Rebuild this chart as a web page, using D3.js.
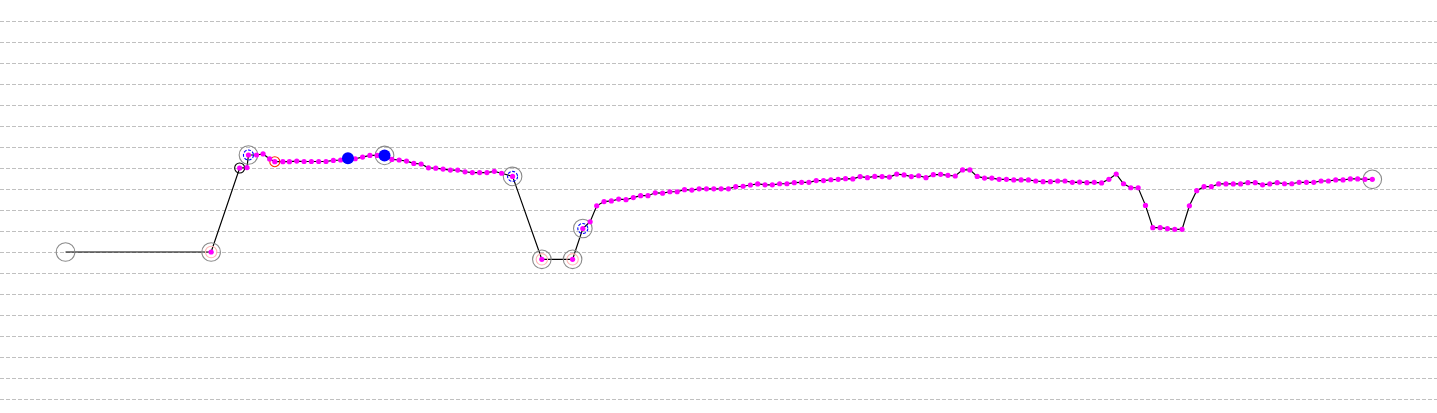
<!DOCTYPE html>
<html>
<head>
<meta charset="utf-8">
<script src="https://cdn.jsdelivr.net/npm/d3@7"></script>
<style>
  body { margin: 0; background: #fff; }
  .grid line { stroke: #c0c0c0; stroke-dasharray: 4,2; }
  .grid path { display: none; }
</style>
</head>
<body>
<div id="chart"></div>
<script>
// sample times (index units) and values
var times = [0.4, 20.3, 24.2, 25.2, 25.4, 26.5, 27.4, 28.3, 29, 30.1, 31, 32, 33, 34, 35, 36, 37, 38, 39, 40,
  41, 42, 43, 44, 45, 46, 47, 48, 49, 50, 51, 52, 53, 54, 55, 56, 57, 58, 59, 60,
  61.5, 65.5, 69.7, 71.1, 72.1, 73, 74, 75, 76, 77, 78, 79, 80, 81, 82, 83, 84, 85, 86, 87,
  88, 89, 90, 91, 92, 93, 94, 95, 96, 97, 98, 99, 100, 101, 102, 103, 104, 105, 106, 107,
  108, 109, 110, 111, 112, 113, 114, 115, 116, 117, 118, 119, 120, 121, 122, 123, 124, 125, 126, 127,
  128, 129, 130, 131, 132, 133, 134, 135, 136, 137, 138, 139, 140, 141, 142, 143, 144, 145, 146, 147,
  148, 149, 150, 151, 152, 153, 154, 155, 156, 157, 158, 159, 160, 161, 162, 163, 164, 165, 166, 167,
  168, 169, 170, 171, 172, 173, 174, 175, 176, 177, 178, 179];

var values = [8.0, 8.0, 12.0, 12.02, 12.62, 12.62, 12.67, 12.43, 12.3, 12.3, 12.3, 12.33, 12.31, 12.31, 12.31, 12.31, 12.36, 12.38, 12.46, 12.44,
  12.52, 12.6, 12.6, 12.6, 12.41, 12.38, 12.33, 12.22, 12.19, 12.01, 11.99, 11.95, 11.9, 11.9, 11.82, 11.78, 11.78, 11.78, 11.84, 11.75,
  11.6, 7.65, 7.65, 9.12, 9.44, 10.2, 10.4, 10.43, 10.52, 10.49, 10.59, 10.68, 10.68, 10.82, 10.8, 10.87, 10.87, 10.97, 10.95, 11.01,
  11.01, 11.01, 11.01, 11.01, 11.11, 11.13, 11.19, 11.24, 11.2, 11.2, 11.25, 11.25, 11.3, 11.32, 11.32, 11.4, 11.4, 11.44, 11.46, 11.49,
  11.48, 11.59, 11.54, 11.6, 11.59, 11.57, 11.71, 11.67, 11.59, 11.63, 11.54, 11.68, 11.7, 11.65, 11.62, 11.91, 11.91, 11.6, 11.52, 11.52,
  11.46, 11.46, 11.43, 11.43, 11.43, 11.38, 11.35, 11.35, 11.38, 11.38, 11.32, 11.33, 11.3, 11.32, 11.29, 11.46, 11.71, 11.25, 11.06, 11.06,
  10.22, 9.16, 9.16, 9.11, 9.08, 9.08, 10.2, 10.92, 11.11, 11.11, 11.24, 11.24, 11.24, 11.24, 11.3, 11.3, 11.2, 11.24, 11.3, 11.25,
  11.25, 11.32, 11.32, 11.32, 11.38, 11.38, 11.43, 11.43, 11.48, 11.48, 11.46, 11.46];

// marked samples (by time)
var greyRings = [0.4, 20.3, 25.4, 44, 61.5, 65.5, 69.7, 71.1, 179];
var pinkRings = [20.3, 65.5, 69.7];
var blueDashedRings = [25.4, 61.5, 71.1];
var blackRings = [24.2];
var redRings = [29];
var blueDots = [39, 44];
var noDot = [0.4];

var gridValues = [1, 2, 3, 4, 5, 6, 7, 8, 9, 10, 11, 12, 13, 14, 15, 16, 17, 18, 19];

var svgWidth = 1437;
var svgHeight = 413;

var data = times.map(function(t, i) { return { t: t, v: values[i] }; });
function valueAt(t) { return values[times.indexOf(t)]; }

var svg = d3.select("#chart")
  .append("svg")
  .attr("width", svgWidth)
  .attr("height", svgHeight);

var xScale = d3.scaleLinear()
  .domain([0, 179])
  .range([62.6, 1372.3]);

var yScale = d3.scaleLinear()
  .domain([0, 20])
  .range([420, 0]);

// dashed horizontal grid
svg.append("g")
  .attr("class", "grid")
  .call(d3.axisLeft(yScale).tickValues(gridValues).tickSize(-svgWidth).tickFormat(""))
  .call(g => g.selectAll("line").attr("x1", 0).attr("x2", svgWidth));

var line = d3.line()
  .x(d => xScale(d.t))
  .y(d => yScale(d.v));

svg.append("path")
  .datum(data)
  .attr("fill", "none")
  .attr("stroke", "#000")
  .attr("stroke-width", 1.2)
  .attr("d", line);

function rings(list, r, color, dash) {
  svg.append("g").selectAll("circle")
    .data(list)
    .enter()
    .append("circle")
    .attr("cx", t => xScale(t))
    .attr("cy", t => yScale(valueAt(t)))
    .attr("r", r)
    .attr("fill", "none")
    .attr("stroke", color)
    .attr("stroke-width", 1.1)
    .attr("stroke-dasharray", dash);
}

rings(greyRings, 9.3, "#8a8a8a", null);
rings(pinkRings, 5.7, "#ffb6b6", null);
rings(blueDashedRings, 5, "#0000ff", "3,1.5");
rings(blackRings, 5, "#000", null);
rings(redRings, 5, "#ff2a00", null);

svg.append("g").selectAll("circle")
  .data(data.filter(d => noDot.indexOf(d.t) < 0))
  .enter()
  .append("circle")
  .attr("cx", d => xScale(d.t))
  .attr("cy", d => yScale(d.v))
  .attr("r", 2.6)
  .attr("fill", "#ff00ff");

svg.append("g").selectAll("circle")
  .data(blueDots)
  .enter()
  .append("circle")
  .attr("cx", t => xScale(t))
  .attr("cy", t => yScale(valueAt(t)))
  .attr("r", 6)
  .attr("fill", "#0000ff");
</script>
</body>
</html>
